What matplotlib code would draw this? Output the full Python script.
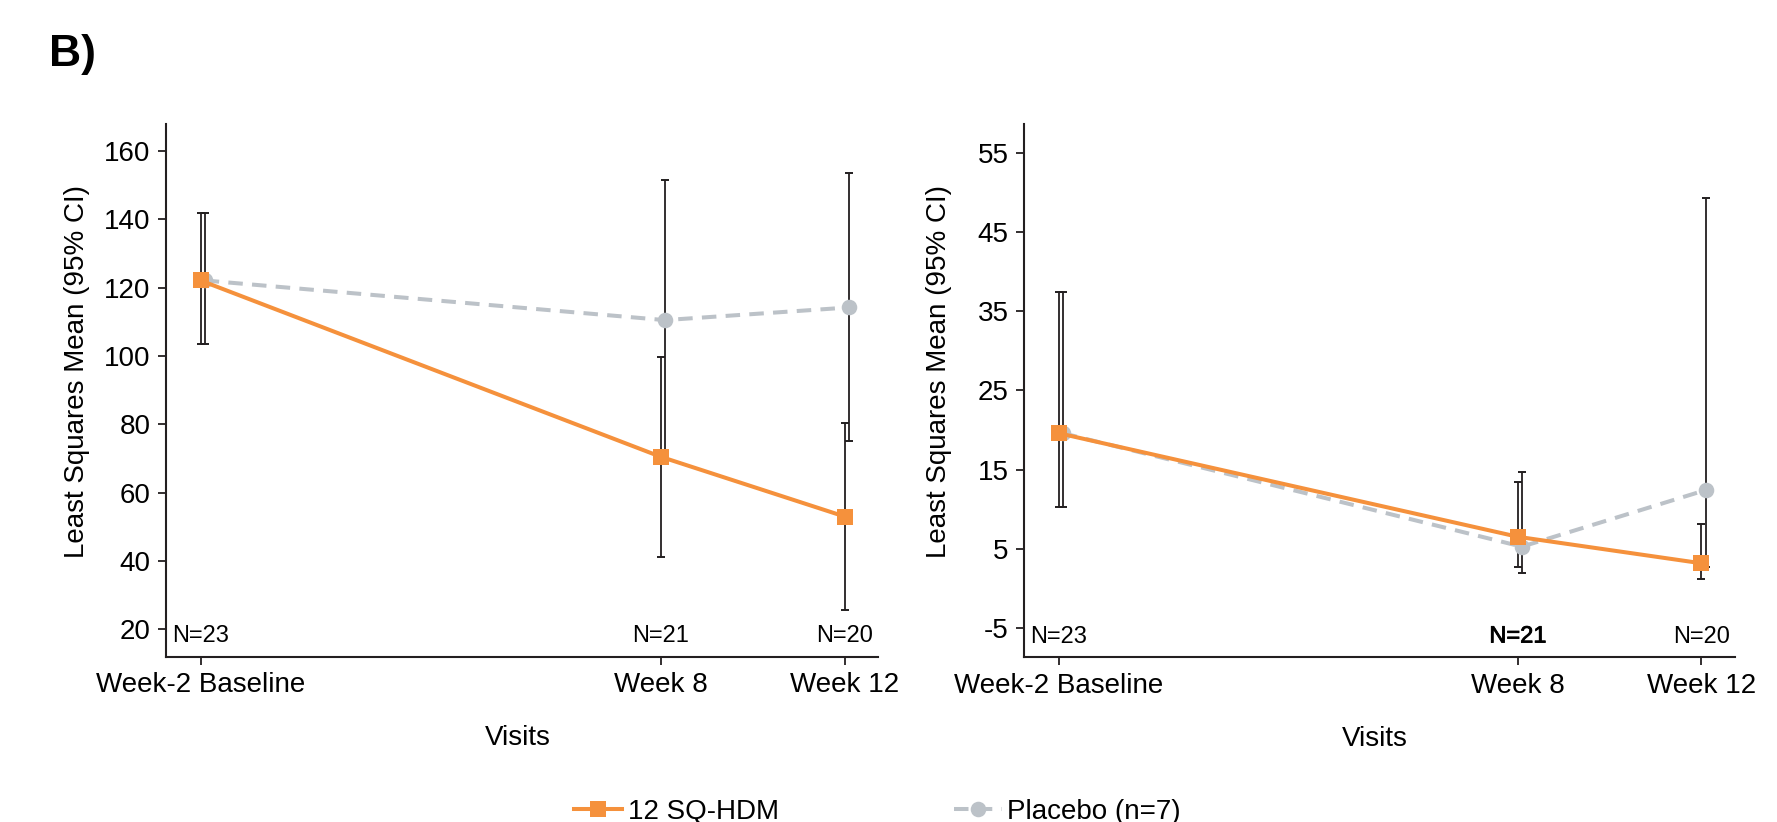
import matplotlib
matplotlib.use("Agg")
import matplotlib.pyplot as plt
import matplotlib.transforms as mtransforms
import matplotlib.patheffects as pe
import numpy as np

plt.rcParams['font.family'] = ['Liberation Sans', 'DejaVu Sans']
plt.rcParams['axes.unicode_minus'] = False

# ---------------- data ----------------
visits = ['Week-2 Baseline', 'Week 8', 'Week 12']
weeks = [-2, 8, 12]
n_labels = ['N=23', 'N=21', 'N=20']
series_names = ['12 SQ-HDM', 'Placebo (n=7)']

# left panel
sq_mean_L = [122.1, 70.5, 53.0]
sq_lo_L = [103.5, 41.1, 25.7]
sq_hi_L = [141.8, 99.6, 80.3]
pl_mean_L = [122.1, 110.5, 114.2]
pl_lo_L = [103.6, 71.0, 75.1]
pl_hi_L = [141.7, 151.5, 153.5]
yticks_L = [20, 40, 60, 80, 100, 120, 140, 160]

# right panel
sq_mean_R = [19.6, 6.5, 3.15]
sq_lo_R = [10.3, 2.7, 1.16]
sq_hi_R = [37.5, 13.4, 8.1]
pl_mean_R = [19.6, 5.25, 12.4]
pl_lo_R = [10.3, 1.9, 2.7]
pl_hi_R = [37.5, 14.7, 49.4]
yticks_R = [-5, 5, 15, 25, 35, 45, 55]

# ---------------- style ----------------
ORANGE = '#F5913C'
GREY = '#BCC2C8'
INK = '#231F20'
PL_OFFSET = 0.09

fig = plt.figure(figsize=(17.77, 8.22), dpi=100)
ax1 = fig.add_axes([166 / 1777, 1 - 656.7 / 822, 712 / 1777, (656.7 - 124.3) / 822])
ax2 = fig.add_axes([1024.2 / 1777, 1 - 657.3 / 822, 710.3 / 1777, (657.3 - 124) / 822])


def draw(ax, sqm, sql, sqh, plm, pll, plh, yticks, ylim, ylab_xy, n_bold_idx=None):
    x = np.array(weeks, dtype=float)
    xp = x + PL_OFFSET
    sqm, sql, sqh = map(np.array, (sqm, sql, sqh))
    plm, pll, plh = map(np.array, (plm, pll, plh))
    ax.errorbar(x, sqm, yerr=[sqm - sql, sqh - sqm], fmt='none', ecolor=INK,
                elinewidth=1.3, capsize=2.8, capthick=1.4, zorder=2)
    ax.errorbar(xp, plm, yerr=[plm - pll, plh - plm], fmt='none', ecolor=INK,
                elinewidth=1.3, capsize=2.8, capthick=1.4, zorder=2)
    lp, = ax.plot(xp, plm, color=GREY, lw=2.9, linestyle=(0, (3.6, 2.3)),
                  marker='o', markersize=11.2, markeredgewidth=0, zorder=3,
                  dash_capstyle='butt')
    ls, = ax.plot(x, sqm, color=ORANGE, lw=2.9, marker='s', markersize=11.2,
                  markeredgewidth=0, zorder=4)
    ax.set_xlim(-2.75, 12.72)
    ax.set_ylim(*ylim)
    ax.set_xticks(weeks)
    ax.set_xticklabels(visits)
    ax.set_yticks(yticks)
    for s in ['top', 'right']:
        ax.spines[s].set_visible(False)
    for s in ['left', 'bottom']:
        ax.spines[s].set_linewidth(1.5)
        ax.spines[s].set_color(INK)
    ax.tick_params(axis='both', length=5.8, width=1.3, color=INK,
                   labelsize=20, labelcolor='black', pad=5.5)
    ax.set_xlabel('Visits', fontsize=20, va='center')
    ax.xaxis.set_label_coords(0.494, -0.1527)
    ax.set_ylabel('Least Squares Mean (95% CI)', fontsize=20, va='center')
    ax.yaxis.set_label_coords(*ylab_xy)
    trans = mtransforms.blended_transform_factory(ax.transData, ax.transAxes)
    for i, (w, lab) in enumerate(zip(weeks, n_labels)):
        t = ax.text(w, 0.0276, lab, transform=trans, ha='center', va='baseline',
                    fontsize=17, color='black')
        if n_bold_idx is not None and i == n_bold_idx:
            t.set_path_effects([pe.withStroke(linewidth=0.6, foreground='black')])
    return ls, lp


ls, lp = draw(ax1, sq_mean_L, sq_lo_L, sq_hi_L, pl_mean_L, pl_lo_L, pl_hi_L,
              yticks_L, (12.0, 167.8), (-0.1243, 0.5357))
draw(ax2, sq_mean_R, sq_lo_R, sq_hi_R, pl_mean_R, pl_lo_R, pl_hi_R,
     yticks_R, (-8.74, 58.7), (-0.12, 0.536), n_bold_idx=1)

fig.text(49 / 1777, 1 - 66 / 822, 'B)', fontsize=32, fontweight='bold',
         ha='left', va='baseline', color='black')

fig.legend(handles=[ls, lp], labels=series_names, ncol=2, frameon=False,
           loc='center left', bbox_to_anchor=(574 / 1777, 1 - 812 / 822),
           borderpad=0, borderaxespad=0, handlelength=1.73, handletextpad=0.2,
           columnspacing=6.3, fontsize=20)

fig.savefig('out.png', dpi=100)
